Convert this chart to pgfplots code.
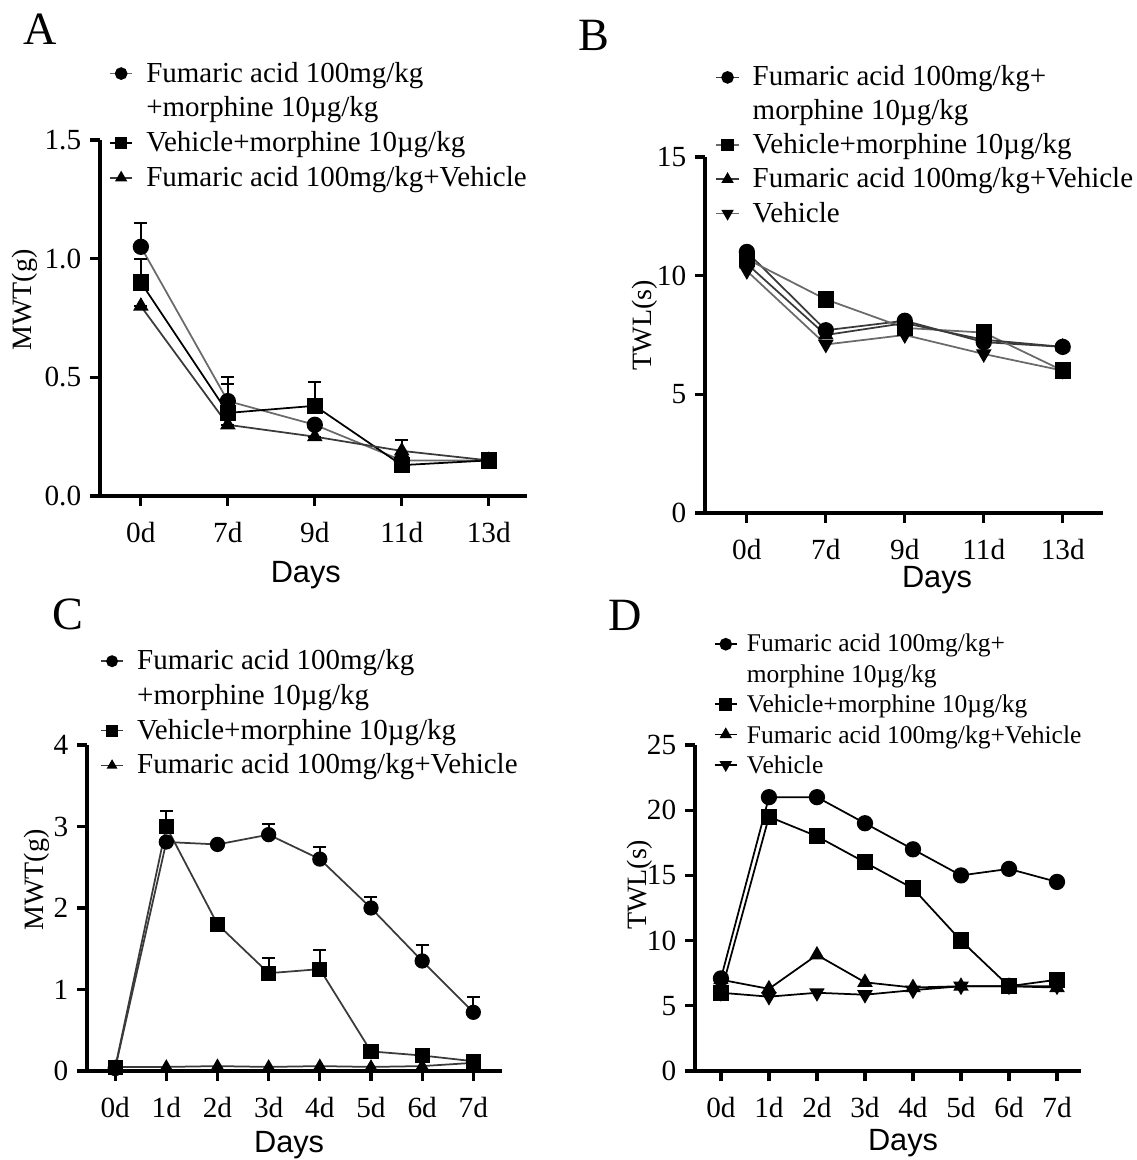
\documentclass[border=0pt]{standalone}
\usepackage{pgfplots}
\pgfplotsset{compat=1.18}
\usepackage{fontspec}
\setmainfont{Liberation Serif}
\newfontfamily\arialfont{Liberation Sans}

\definecolor{lgray}{HTML}{6A6A6A}
\definecolor{dgray}{HTML}{3A3A3A}

\pgfplotsset{
  panel/.style={
    scale only axis,
    anchor=south west,
    axis lines=left,
    axis line style={-, line width=1.5pt},
    tick align=outside,
    major tick length=4pt,
    every tick/.style={line width=1.3pt, black},
    /pgf/number format/assume math mode=true,
    tick label style={font=\fontsize{11.7}{13}\selectfont},
    xticklabel shift=3pt,
    label style={font=\fontsize{11.2}{13}\selectfont},
    xlabel style={font=\arialfont\fontsize{12.3}{14}\selectfont, anchor=center},
    ylabel style={anchor=center},
    xlabel={Days},
    legend cell align=left,
    legend image code/.code={\draw[mark repeat=2, mark phase=2, /tikz/every mark/.append style={scale=0.75}]
      plot coordinates {(0pt,3.4pt) (4.5pt,3.4pt) (9pt,3.4pt)};},
    legend style={anchor=north west, draw=none, fill=none, inner sep=0pt,
      font=\fontsize{11.6}{13.8}\selectfont, row sep=-1.2pt,
      cells={anchor=base west, align=left, inner sep=0pt},
      /tikz/every odd column/.append style={column sep=3.2pt}},
  },
  % legend image for a two-line entry: marker beside the first line
  firstleg/.style={legend image code/.code={\draw[mark repeat=2, mark phase=2, /tikz/every mark/.append style={scale=0.75}]
      plot coordinates {(0pt,#1) (4.5pt,#1) (9pt,#1)};}},
  ser/.style={line width=0.7pt, mark size=2.9pt, mark options={solid, fill=black, draw=black}},
  down/.style={/tikz/every mark/.append style={rotate=180}},
  eb/.style={error bars/.cd, y dir=plus, y explicit,
    error bar style={line width=0.8pt, black},
    error mark options={rotate=90, mark size=2.6pt, line width=0.8pt, black}},
}

\begin{document}
\begin{tikzpicture}
\path[use as bounding box] (0,0) rectangle (454.8pt,464pt);
\tikzset{letter/.style={font=\fontsize{18.5}{20}\selectfont, inner sep=0pt}}
\node[letter] at (16pt,452.4pt) {A};
\node[letter] at (237.6pt,450pt) {B};
\node[letter] at (27pt,218.4pt) {C};
\node[letter] at (250pt,218pt) {D};

% ---------------- A
\begin{axis}[panel,
  at={(40pt,265.6pt)}, width=170.8pt, height=142.4pt,
  xmin=-0.47, xmax=4.44, ymin=0, ymax=1.5,
  xtick={0,...,4}, xticklabels={0d,7d,9d,11d,13d},
  ytick={0,0.5,1,1.5},
  yticklabel style={/pgf/number format/.cd, fixed, fixed zerofill, precision=1},
  ylabel={MWT(g)},
  xlabel style={at={(axis description cs:0.482,-0.222)}},
  ylabel style={at={(axis description cs:-0.176,0.55)}},
  legend style={at={(axis description cs:0.02,1.246)}},
]
\addplot[ser, lgray, mark=*, firstleg=17.2pt, eb] table[x=x, y=y, y error=e] {
x y e
0 1.05 0.10
1 0.40 0.10
2 0.30 0
3 0.15 0
4 0.15 0
};
\addplot[ser, black, mark=square*, eb] table[x=x, y=y, y error=e] {
x y e
0 0.90 0.10
1 0.35 0.12
2 0.38 0.10
3 0.13 0
4 0.15 0
};
\addplot[ser, dgray, mark=triangle*, eb] table[x=x, y=y, y error=e] {
x y e
0 0.80 0
1 0.30 0
2 0.25 0
3 0.19 0.045
4 0.15 0
};
\legend{\strut Fumaric acid 100mg/kg\\\strut+morphine 10µg/kg, \strut Vehicle+morphine 10µg/kg, \strut Fumaric acid 100mg/kg+Vehicle}
\end{axis}

% ---------------- B
\begin{axis}[panel,
  at={(282pt,258.8pt)}, width=159.2pt, height=142.4pt,
  xmin=-0.53, xmax=4.51, ymin=0, ymax=15,
  xtick={0,...,4}, xticklabels={0d,7d,9d,11d,13d},
  ytick={0,5,10,15},
  ylabel={TWL(s)},
  xlabel style={at={(axis description cs:0.583,-0.188)}},
  ylabel style={at={(axis description cs:-0.151,0.527)}},
  legend style={at={(axis description cs:0.025,1.281)}, font=\fontsize{11.6}{13.4}\selectfont},
]
\addplot[ser, dgray, mark=*, firstleg=16.8pt] table[x=x, y=y] {
x y
0 11.0
1 7.7
2 8.1
3 7.2
4 7.0
};
\addplot[ser, lgray, mark=square*] table[x=x, y=y] {
x y
0 10.7
1 9.0
2 7.8
3 7.6
4 6.0
};
\addplot[ser, dgray, mark=triangle*] table[x=x, y=y] {
x y
0 10.5
1 7.5
2 8.0
3 7.3
4 7.0
};
\addplot[ser, lgray, mark=triangle*, down] table[x=x, y=y] {
x y
0 10.2
1 7.1
2 7.5
3 6.7
4 6.0
};
\legend{\strut Fumaric acid 100mg/kg+\\\strut morphine 10µg/kg, \strut Vehicle+morphine 10µg/kg, \strut Fumaric acid 100mg/kg+Vehicle, \strut Vehicle}
\end{axis}

% ---------------- C
\begin{axis}[panel,
  at={(34.8pt,35.6pt)}, width=166pt, height=130.4pt,
  xmin=-0.55, xmax=7.56, ymin=0, ymax=4,
  xtick={0,...,7}, xticklabels={0d,1d,2d,3d,4d,5d,6d,7d},
  ytick={0,1,2,3,4},
  ylabel={MWT(g)},
  xlabel style={at={(axis description cs:0.487,-0.227)}},
  ylabel style={at={(axis description cs:-0.12,0.586)}},
  legend style={at={(axis description cs:0.03,1.322)}},
]
\addplot[ser, dgray, mark=*, mark size=2.7pt, firstleg=17.2pt, eb] table[x=x, y=y, y error=e] {
x y e
0 0.03 0
1 2.81 0
2 2.78 0
3 2.90 0.13
4 2.60 0.15
5 2.00 0.14
6 1.35 0.19
7 0.72 0.19
};
\addplot[ser, dgray, mark=square*, mark size=2.7pt, eb] table[x=x, y=y, y error=e] {
x y e
0 0.04 0
1 3.00 0.19
2 1.80 0
3 1.20 0.19
4 1.25 0.23
5 0.24 0
6 0.19 0
7 0.12 0
};
\addplot[ser, dgray, mark=triangle*, mark size=2.4pt] table[x=x, y=y] {
x y
0 0.05
1 0.05
2 0.06
3 0.05
4 0.06
5 0.05
6 0.06
7 0.10
};
\legend{\strut Fumaric acid 100mg/kg\\\strut+morphine 10µg/kg, \strut Vehicle+morphine 10µg/kg, \strut Fumaric acid 100mg/kg+Vehicle}
\end{axis}

% ---------------- D
\begin{axis}[panel,
  at={(278pt,35.6pt)}, width=154.4pt, height=130.4pt,
  xmin=-0.54, xmax=7.5, ymin=0, ymax=25,
  xtick={0,...,7}, xticklabels={0d,1d,2d,3d,4d,5d,6d,7d},
  ytick={0,5,10,15,20,25},
  ylabel={TWL(s)},
  xlabel style={at={(axis description cs:0.539,-0.221)}},
  ylabel style={at={(axis description cs:-0.142,0.571)}},
  legend style={at={(axis description cs:0.047,1.369)}, font=\fontsize{10.2}{12.3}\selectfont,
    row sep=-2pt, /tikz/every odd column/.append style={column sep=1.6pt}},
]
\addplot[ser, black, mark=*, firstleg=15.3pt] table[x=x, y=y] {
x y
0 7.1
1 21.0
2 21.0
3 19.0
4 17.0
5 15.0
6 15.5
7 14.5
};
\addplot[ser, black, mark=square*] table[x=x, y=y] {
x y
0 6.0
1 19.5
2 18.0
3 16.0
4 14.0
5 10.0
6 6.5
7 7.0
};
\addplot[ser, black, mark=triangle*] table[x=x, y=y] {
x y
0 7.0
1 6.3
2 8.9
3 6.8
4 6.4
5 6.5
6 6.5
7 6.4
};
\addplot[ser, black, mark=triangle*, down] table[x=x, y=y] {
x y
0 6.0
1 5.7
2 6.0
3 5.85
4 6.2
5 6.5
6 6.5
7 6.5
};
\legend{\strut Fumaric acid 100mg/kg+\\\strut morphine 10µg/kg, \strut Vehicle+morphine 10µg/kg, \strut Fumaric acid 100mg/kg+Vehicle, \strut Vehicle}
\end{axis}
\end{tikzpicture}
\end{document}
